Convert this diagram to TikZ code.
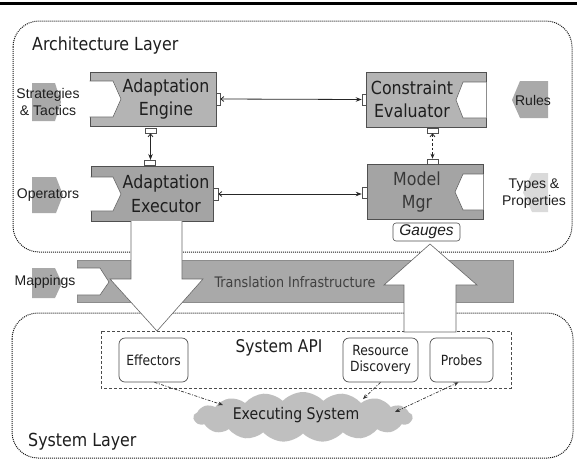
\documentclass[tikz,border=0pt]{standalone}
\usepackage{fontspec}
\setmainfont{Liberation Sans}
\newfontfamily\tah[FakeStretch=0.88]{DejaVu Sans}
\usetikzlibrary{arrows.meta,shapes.symbols}
\definecolor{boxA}{HTML}{B4B4B4}
\definecolor{boxB}{HTML}{A4A4A4}
\definecolor{chev}{HTML}{A9A9A9}
\definecolor{chevlight}{HTML}{DADADA}
\definecolor{bar}{HTML}{A9A9A9}
\definecolor{cloudc}{HTML}{BFBFBF}
\definecolor{edge}{HTML}{505050}
\definecolor{ink}{HTML}{1E1E1E}
\begin{document}
\begin{tikzpicture}[x=1pt,y=-1pt,
  lbl/.style={inner sep=0pt, text=ink, align=center},
  bigtxt/.style={lbl, font=\tah\fontsize{18}{23.5}\selectfont},
  apitxt/.style={lbl, font=\tah\fontsize{17.5}{21}\selectfont},
  midtxt/.style={lbl, font=\tah\fontsize{14}{15.5}\selectfont},
  bartxt/.style={lbl, text=black!75, font=\tah\fontsize{14.5}{17}\selectfont},
  sidetxt/.style={lbl, font=\fontsize{14}{16.5}\selectfont},
  compbox/.style={draw=edge, line width=0.8pt, inner sep=0pt},
  port/.style={draw=edge, fill=white, line width=0.6pt, inner sep=0pt},
  layer/.style={draw=black!90, line width=1pt, dash pattern=on 1pt off 1pt, rounded corners=26pt},
  sysbox/.style={draw=edge, fill=white, line width=0.7pt, rounded corners=6pt, inner sep=0pt},
  bigarrow/.style={draw=black!60, fill=white, line width=0.6pt},
  conn/.style={draw=black!85, line width=0.8pt, {Straight Barb[length=3pt,width=5pt]}-{Stealth[length=6pt,width=4.5pt]}},
  dconn/.style={draw=black!85, line width=0.8pt, dash pattern=on 2.5pt off 2pt, {Straight Barb[length=3pt,width=5pt]}-{Stealth[length=5pt,width=4pt]}},
  ddconn/.style={draw=black!80, line width=0.7pt, dash pattern=on 3pt off 1.5pt on 1pt off 1.5pt},
  whitechev/.style={fill=white, draw=black!60, line width=0.6pt}
]
\useasboundingbox (0,0) rectangle (577,461);
\fill[white] (0,0) rectangle (577,461);
% top rule
\fill[black] (0,1.5) rectangle (577,4.5);

% layers
\draw[layer] (13,21) rectangle (572,252);
\draw[layer] (12,313) rectangle (573,458);
\node[lbl, font=\tah\fontsize{18}{20}\selectfont, anchor=west] (archT) at (32,46) {Architecture Layer};
\node[lbl, font=\tah\fontsize{18}{20}\selectfont, anchor=west] (sysT) at (28,442) {System Layer};

% side chevrons
\fill[chev] (32,83) -- (55,83) -- (61,102) -- (55,121) -- (32,121) -- cycle;
\node[sidetxt] (strat) at (48,102) {Strategies\\\& Tactics};
\fill[chev] (32,177) -- (56,177) -- (63,195) -- (56,213) -- (32,213) -- cycle;
\node[sidetxt] (ops) at (48,195) {Operators};
\fill[chev] (520,81) -- (548,81) -- (548,118) -- (520,118) -- (512,100) -- cycle;
\node[sidetxt] (rules) at (533,100) {Rules};
\fill[chevlight] (532,173) -- (548,173) -- (548,212) -- (532,212) -- (523,192.5) -- cycle;
\node[sidetxt, font=\fontsize{14}{17}\selectfont] (types) at (534,193.5) {Types \&\\Properties};

% components
\node[compbox, fill=boxA, minimum width=126pt, minimum height=54pt] (eng) at (153,99) {};
\fill[whitechev] (eng.west |- 0,81) -- (113,81) -- (121,99) -- (113,117) -- (eng.west |- 0,117);
\node[bigtxt] (engT) at (166,99) {Adaptation\\Engine};

\node[compbox, fill=boxB, minimum width=122pt, minimum height=55pt] (exe) at (152,193.5) {};
\fill[whitechev] (exe.west |- 0,177) -- (113,177) -- (121,194) -- (113,211) -- (exe.west |- 0,211);
\node[bigtxt] (exeT) at (166,194) {Adaptation\\Executor};

\node[compbox, fill=boxA, minimum width=120pt, minimum height=55pt] (con) at (426,99.5) {};
\fill[whitechev] (con.east |- 0,82) -- (463,82) -- (456,100) -- (463,118) -- (con.east |- 0,118);
\node[bigtxt] (conT) at (412,99.5) {Constraint\\Evaluator};

\node[compbox, fill=boxB, minimum width=116pt, minimum height=55pt] (mod) at (425,191.5) {};
\fill[whitechev] (mod.east |- 0,174) -- (463,174) -- (455,192) -- (463,210) -- (mod.east |- 0,210);
\node[bigtxt, text=black!78] (modT) at (417,192) {Model\\Mgr};

% ports
\node[port, minimum width=4pt, minimum height=12pt] (engR) at (218,99) {};
\node[port, minimum width=11pt, minimum height=5pt] (engB) at (150.5,130.5) {};
\node[port, minimum width=11pt, minimum height=5.5pt] (exeTp) at (149.5,163) {};
\node[port, minimum width=5pt, minimum height=12pt] (exeR) at (215.5,194) {};
\node[port, minimum width=4pt, minimum height=11pt] (conL) at (364,99.5) {};
\node[port, minimum width=11pt, minimum height=5pt] (conB) at (432.5,130.5) {};
\node[port, minimum width=11pt, minimum height=5pt] (modTp) at (432.5,161.5) {};
\node[port, minimum width=5pt, minimum height=11pt] (modL) at (364.5,193) {};

% connectors
\draw[conn] (engR.east) -- (conL.west);
\draw[conn] (exeR.east) -- (modL.west |- exeR.east);
\draw[conn] (engB.south) -- (engB.south |- exeTp.north);
\draw[dconn] (conB.south) -- (modTp.north);

% translation infrastructure
\fill[bar] (77,260) rectangle (513,302);
\draw[black!45, line width=0.5pt] (77,260) rectangle (513,302);
\fill[chev] (32,268) -- (55,268) -- (62,283) -- (55,298) -- (32,298) -- cycle;
\node[sidetxt] (map) at (45,282) {Mappings};
\fill[whitechev] (77,268) -- (100,268) -- (109,282) -- (100,295) -- (77,295);
\node[bartxt] (trans) at (295,282) {Translation Infrastructure};

% system API
\draw[draw=black!70, line width=0.7pt, dash pattern=on 3pt off 2pt] (101,331) rectangle (511,388);
\node[apitxt] (api) at (279,348) {System API};
\node[sysbox, minimum width=69pt, minimum height=44pt] (eff) at (153.5,360) {};
\node[midtxt] (effT) at (eff) {Effectors};
\node[sysbox, minimum width=75pt, minimum height=44pt] (res) at (380.5,360) {};
\node[midtxt] (resT) at (res) {Resource\\Discovery};
\node[sysbox, minimum width=63pt, minimum height=44pt] (prb) at (461.5,360) {};
\node[midtxt] (prbT) at (prb) {Probes};

% big arrows
\draw[bigarrow] (131,221) -- (131,279) -- (110,279) -- (157,331) -- (203,279) -- (182,279) -- (182,221);
\draw[bigarrow] (404,332) -- (404,285) -- (384,285) -- (430,244) -- (477,285) -- (456,285) -- (456,332) -- cycle;
\node[sysbox, rounded corners=3pt, minimum width=67pt, minimum height=18pt, line width=0.6pt] (gau) at (426.5,232) {};
\node[lbl, font=\itshape\fontsize{15.5}{17}\selectfont] (gauT) at (426.5,232) {Gauges};

% executing system
\node[cloud, cloud puffs=17, cloud puff arc=95, aspect=4.6, fill=cloudc, draw=none, minimum width=219pt, minimum height=50pt, inner sep=0pt] (cloud) at (303,417) {};
\node[lbl, font=\tah\fontsize{16}{18}\selectfont] (exs) at (296,415) {Executing System};
\coordinate (c1) at (223,405);
\coordinate (c2) at (363,399);
\coordinate (c3) at (395,412);
\draw[ddconn, -{Stealth[length=5pt,width=4pt]}] ([xshift=1pt]eff.south) -- (c1);
\draw[ddconn, -{Stealth[length=5pt,width=4pt]}] (res.south) -- (c2);
\draw[ddconn, {Stealth[length=5pt,width=4pt]}-{Stealth[length=5pt,width=4pt]}] (c3) -- ([xshift=-3pt]prb.south);
\end{tikzpicture}
\end{document}
